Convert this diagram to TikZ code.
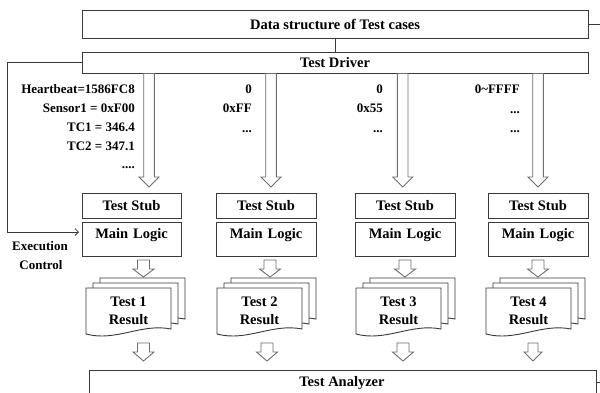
\documentclass[tikz,border=0pt]{standalone}
\usepackage{fontspec}
\setmainfont{Liberation Serif}
\usetikzlibrary{arrows.meta}
\definecolor{boxc}{HTML}{3A3A3A}
\definecolor{arrc}{HTML}{6E6E6E}
\newcommand\hollowdown[6]{% cx, top, headbase, tip, shafthalf, headhalf
  \draw[harrow] (#1-#5,#2) -- (#1+#5,#2) -- (#1+#5,#3) -- (#1+#6,#3) -- (#1,#4) -- (#1-#6,#3) -- (#1-#5,#3) -- cycle;}
\newcommand\docpage[2]{% left, top
  \draw[docst] (#1,#2) -- (#1+85,#2) -- (#1+85,#2+41) .. controls (#1+55,#2+35) and (#1+30,#2+54) .. (#1,#2+46) -- cycle;}
\newcommand\docstack[2]{\docpage{#1+14}{#2-10}\docpage{#1+7}{#2-5}\docpage{#1}{#2}}
\begin{document}
\begin{tikzpicture}[x=1pt,y=-1pt,
  box/.style={draw=boxc, line width=1pt, fill=white, inner sep=0pt, outer sep=0pt, anchor=north west},
  lbl/.style={font=\bfseries\fontsize{14.5}{18}\selectfont, inner sep=0pt, align=center},
  val/.style={font=\bfseries\fontsize{13}{14}\selectfont, inner sep=0pt, anchor=base east},
  harrow/.style={draw=arrc, line width=0.9pt, fill=white, line join=miter},
  docst/.style={draw=boxc, line width=0.9pt, fill=white},
  conn/.style={draw=boxc, line width=0.8pt}]
\clip (0,0) rectangle (600,392);
\fill[white] (0,0) rectangle (600,392);

% top boxes
\node[box, minimum width=506pt, minimum height=28pt] (data) at (82,10) {};
\node[lbl] (datat) at (data.center) {Data structure of Test cases};
\node[box, minimum width=506pt, minimum height=21pt] (driver) at (82,52) {};
\node[lbl] (drivert) at (driver.center) {Test Driver};
\draw[conn] (data.south) -- (driver.north);
\coordinate (redge1) at (600,24);
\draw[conn] (data.east) -- (redge1);

% execution control
\coordinate (ectip) at (79,232);
\draw[conn, -{Straight Barb[length=3.5pt,width=7pt]}] (driver.west) -| (7,232) -- (ectip);
\node[val, anchor=center] (exec1) at (40,246) {Execution};
\node[val, anchor=center] (exec2) at (41,265) {Control};

% big hollow arrows
\hollowdown{149}{73.5}{177}{187}{5.3}{10}
\hollowdown{271}{73.5}{177}{187}{5.3}{10}
\hollowdown{402.7}{73.5}{177}{187}{5.3}{10}
\hollowdown{538}{73.5}{177}{187}{5.3}{10}

% values
\node[val] (a1) at (135,93) {Heartbeat=1586FC8};
\node[val] (a2) at (135,112) {Sensor1 = 0xF00};
\node[val] (a3) at (135,131) {TC1 = 346.4};
\node[val] (a4) at (135,150) {TC2 = 347.1};
\node[val] (a5) at (135,168) {....};
\node[val] (b1) at (252,93) {0};
\node[val] (b2) at (252,112) {0xFF};
\node[val] (b3) at (252,132) {...};
\node[val] (c1) at (383,93) {0};
\node[val] (c2) at (383,112) {0x55};
\node[val] (c3) at (383,132) {...};
\node[val] (d1) at (520,93) {0\textasciitilde FFFF};
\node[val] (d2) at (520,113) {...};
\node[val] (d3) at (520,132) {...};

% stubs and logic
\foreach \i/\x/\w in {1/82/99, 2/216/100, 3/355/100, 4/488/100}{
  \node[box, minimum width=\w pt, minimum height=25pt] (stub\i) at (\x,193) {};
  \node[lbl] (stubt\i) at (stub\i.center) {Test Stub};
  \node[box, minimum width=\w pt, minimum height=34pt] (logic\i) at (\x,222) {};
  \node[lbl, anchor=base] (logict\i) at ([yshift=-16.5pt]logic\i.north) {Main\,\,Logic};
}

% small arrows below logic
\hollowdown{143.5}{260}{269}{277}{6}{10.5}
\hollowdown{270}{260}{269}{277}{6}{10.5}
\hollowdown{405}{260}{269}{277}{6}{10.5}
\hollowdown{538}{260}{269}{277}{6}{10.5}

% document stacks
\docstack{86}{288}
\node[lbl] (res1) at (128.5,311) {Test 1\\Result};
\docstack{217}{288}
\node[lbl] (res2) at (259.5,311) {Test 2\\Result};
\docstack{356}{288}
\node[lbl] (res3) at (398.5,311) {Test 3\\Result};
\docstack{486}{288}
\node[lbl] (res4) at (528.5,311) {Test 4\\Result};

% small arrows below docs
\hollowdown{143.5}{343}{352}{361}{6}{10.5}
\hollowdown{267}{343}{352}{361}{6}{10.5}
\hollowdown{403}{343}{352}{361}{6}{10.5}
\hollowdown{533}{343}{352}{361}{5}{9}

% analyzer
\node[box, minimum width=507pt, minimum height=30pt] (analyzer) at (89,370) {};
\node[lbl] (analyzert) at (342,383) {Test Analyzer};
\coordinate (aright) at (596,382);
\coordinate (redge2) at (600,382);
\draw[conn] (aright) -- (redge2);
\end{tikzpicture}
\end{document}
